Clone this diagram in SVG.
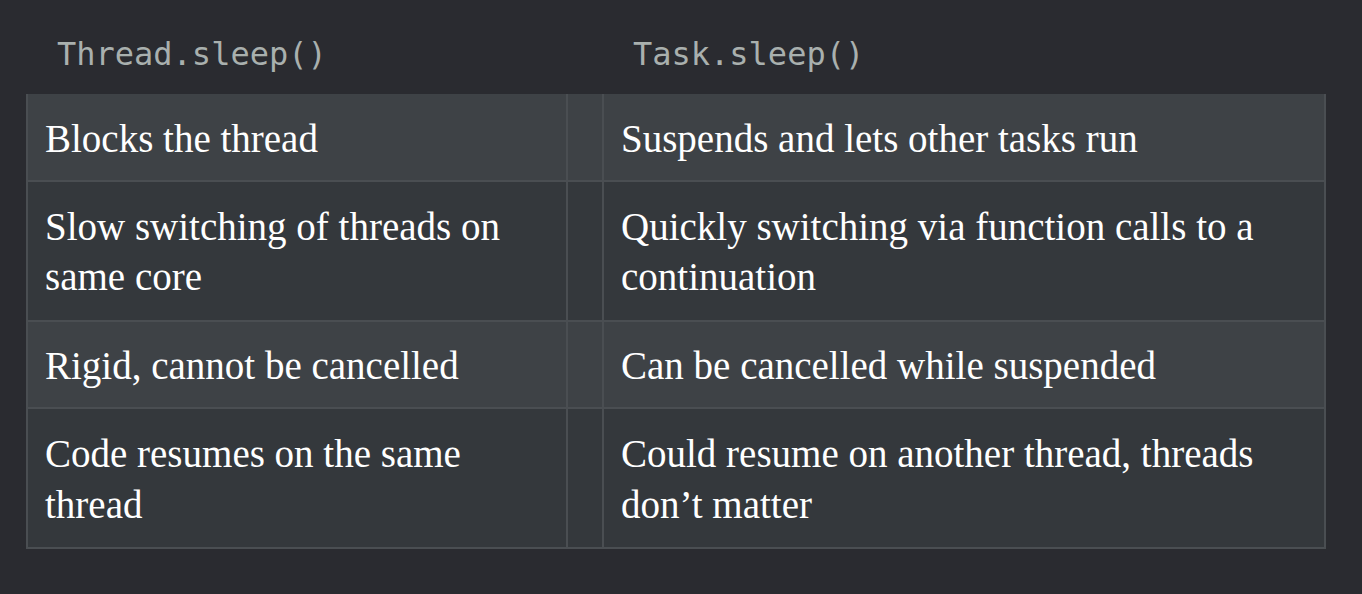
<svg xmlns="http://www.w3.org/2000/svg" width="1362" height="594" viewBox="0 0 1362 594">
<style>
.hd{font-family:"DejaVu Sans Mono","Liberation Mono",monospace;font-size:32px;fill:#a9b0ae}
.tx{font-family:"Liberation Serif","Times New Roman",serif;font-size:39px;fill:#ffffff}
.odd{fill:#3e4246}
.even{fill:#34383c}
.ln{stroke:#4a4e52;stroke-width:2;fill:none}
</style>
<rect width="1362" height="594" fill="#2a2b30"/>
<g id="header">
<text class="hd" x="57" y="65">Thread.sleep()</text>
<text class="hd" x="633" y="65">Task.sleep()</text>
</g>
<g id="row1">
<rect class="odd" x="26" y="94" width="1300" height="87"/>
<text class="tx" x="45" y="152">Blocks the thread</text>
<text class="tx" x="621" y="152">Suspends and lets other tasks run</text>
</g>
<g id="row2">
<rect class="even" x="26" y="181" width="1300" height="140"/>
<text class="tx" x="45" y="240">Slow switching of threads on</text>
<text class="tx" x="45" y="290">same core</text>
<text class="tx" x="621" y="240">Quickly switching via function calls to a</text>
<text class="tx" x="621" y="290">continuation</text>
</g>
<g id="row3">
<rect class="odd" x="26" y="321" width="1300" height="87"/>
<text class="tx" x="45" y="379">Rigid, cannot be cancelled</text>
<text class="tx" x="621" y="379">Can be cancelled while suspended</text>
</g>
<g id="row4">
<rect class="even" x="26" y="408" width="1300" height="141"/>
<text class="tx" x="45" y="467">Code resumes on the same</text>
<text class="tx" x="45" y="518">thread</text>
<text class="tx" x="621" y="467">Could resume on another thread, threads</text>
<text class="tx" x="621" y="518">don’t matter</text>
</g>
<g id="grid">
<path class="ln" d="M27 94V549M1325 94V549M26 548H1326M567 94V549M603 94V549M26 181H1326M26 321H1326M26 408H1326"/>
</g>
</svg>
